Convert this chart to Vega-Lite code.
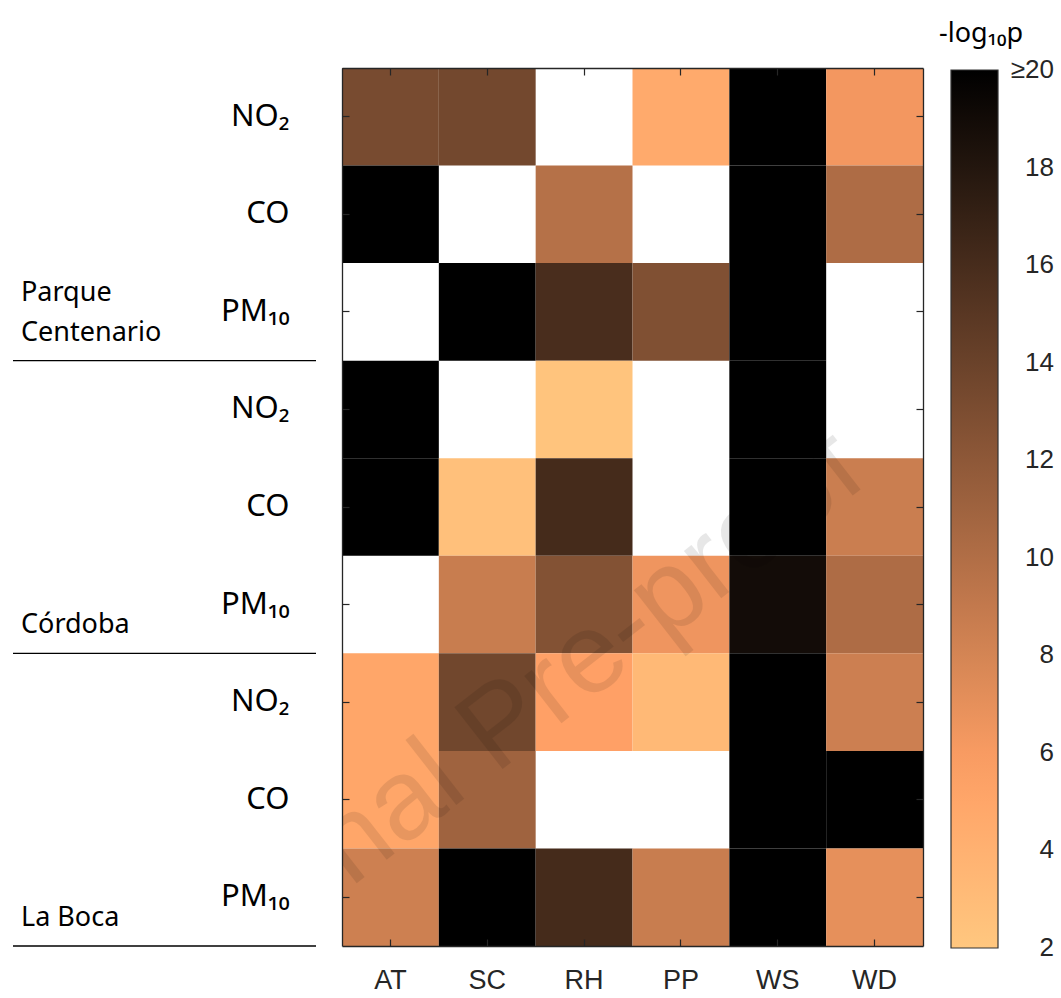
{
  "$schema": "https://vega.github.io/schema/vega-lite/v6.json",
  "background": "white",
  "padding": {"left": 12, "top": 21, "right": 0, "bottom": 0},
  "config": {"view": {"stroke": null}, "font": "Liberation Sans"},
  "datasets": {
    "cells": [
      {"row": "Parque Centenario|NO₂", "variable": "AT", "logp": 13.2},
      {"row": "Parque Centenario|NO₂", "variable": "SC", "logp": 13.5},
      {"row": "Parque Centenario|NO₂", "variable": "RH", "logp": null},
      {"row": "Parque Centenario|NO₂", "variable": "PP", "logp": 4.6},
      {"row": "Parque Centenario|NO₂", "variable": "WS", "logp": 20},
      {"row": "Parque Centenario|NO₂", "variable": "WD", "logp": 6.3},
      {"row": "Parque Centenario|CO", "variable": "AT", "logp": 20},
      {"row": "Parque Centenario|CO", "variable": "SC", "logp": null},
      {"row": "Parque Centenario|CO", "variable": "RH", "logp": 9.8},
      {"row": "Parque Centenario|CO", "variable": "PP", "logp": null},
      {"row": "Parque Centenario|CO", "variable": "WS", "logp": 20},
      {"row": "Parque Centenario|CO", "variable": "WD", "logp": 10.2},
      {"row": "Parque Centenario|PM₁₀", "variable": "AT", "logp": null},
      {"row": "Parque Centenario|PM₁₀", "variable": "SC", "logp": 20},
      {"row": "Parque Centenario|PM₁₀", "variable": "RH", "logp": 15.9},
      {"row": "Parque Centenario|PM₁₀", "variable": "PP", "logp": 12.8},
      {"row": "Parque Centenario|PM₁₀", "variable": "WS", "logp": 20},
      {"row": "Parque Centenario|PM₁₀", "variable": "WD", "logp": null},
      {"row": "Córdoba|NO₂", "variable": "AT", "logp": 20},
      {"row": "Córdoba|NO₂", "variable": "SC", "logp": null},
      {"row": "Córdoba|NO₂", "variable": "RH", "logp": 2.3},
      {"row": "Córdoba|NO₂", "variable": "PP", "logp": null},
      {"row": "Córdoba|NO₂", "variable": "WS", "logp": 20},
      {"row": "Córdoba|NO₂", "variable": "WD", "logp": null},
      {"row": "Córdoba|CO", "variable": "AT", "logp": 20},
      {"row": "Córdoba|CO", "variable": "SC", "logp": 2.6},
      {"row": "Córdoba|CO", "variable": "RH", "logp": 16.1},
      {"row": "Córdoba|CO", "variable": "PP", "logp": null},
      {"row": "Córdoba|CO", "variable": "WS", "logp": 20},
      {"row": "Córdoba|CO", "variable": "WD", "logp": 8.6},
      {"row": "Córdoba|PM₁₀", "variable": "AT", "logp": null},
      {"row": "Córdoba|PM₁₀", "variable": "SC", "logp": 8.7},
      {"row": "Córdoba|PM₁₀", "variable": "RH", "logp": 12.6},
      {"row": "Córdoba|PM₁₀", "variable": "PP", "logp": 6.5},
      {"row": "Córdoba|PM₁₀", "variable": "WS", "logp": 18.9},
      {"row": "Córdoba|PM₁₀", "variable": "WD", "logp": 10.2},
      {"row": "La Boca|NO₂", "variable": "AT", "logp": 5.0},
      {"row": "La Boca|NO₂", "variable": "SC", "logp": 13.6},
      {"row": "La Boca|NO₂", "variable": "RH", "logp": 5.5},
      {"row": "La Boca|NO₂", "variable": "PP", "logp": 3.3},
      {"row": "La Boca|NO₂", "variable": "WS", "logp": 20},
      {"row": "La Boca|NO₂", "variable": "WD", "logp": 8.5},
      {"row": "La Boca|CO", "variable": "AT", "logp": 5.0},
      {"row": "La Boca|CO", "variable": "SC", "logp": 11.0},
      {"row": "La Boca|CO", "variable": "RH", "logp": null},
      {"row": "La Boca|CO", "variable": "PP", "logp": null},
      {"row": "La Boca|CO", "variable": "WS", "logp": 20},
      {"row": "La Boca|CO", "variable": "WD", "logp": 20},
      {"row": "La Boca|PM₁₀", "variable": "AT", "logp": 8.4},
      {"row": "La Boca|PM₁₀", "variable": "SC", "logp": 20},
      {"row": "La Boca|PM₁₀", "variable": "RH", "logp": 16.1},
      {"row": "La Boca|PM₁₀", "variable": "PP", "logp": 8.7},
      {"row": "La Boca|PM₁₀", "variable": "WS", "logp": 20},
      {"row": "La Boca|PM₁₀", "variable": "WD", "logp": 7.0}
    ]
  },
  "bounds": "flush",
  "spacing": 26,
  "hconcat": [
    {
      "width": 303,
      "height": 878,
      "data": {"name": "cells"},
      "transform": [
        {"filter": "datum.variable == 'AT' && indexof(datum.row, 'PM₁₀') >= 0"},
        {"calculate": "split(datum.row, '|')[0]", "as": "site"},
        {"calculate": "datum.site == 'Parque Centenario' ? 'Centenario' : datum.site", "as": "lastLine"},
        {"calculate": "datum.site == 'Parque Centenario' ? 'Parque' : ''", "as": "firstLine"}
      ],
      "encoding": {
        "y": {"field": "row", "type": "nominal", "bandPosition": 1,
              "scale": {"type": "band", "paddingInner": 0, "paddingOuter": 0,
                        "domain": ["Parque Centenario|NO₂", "Parque Centenario|CO", "Parque Centenario|PM₁₀", "Córdoba|NO₂", "Córdoba|CO", "Córdoba|PM₁₀", "La Boca|NO₂", "La Boca|CO", "La Boca|PM₁₀"]},
              "axis": null},
        "x": {"datum": 0, "type": "quantitative", "scale": {"domain": [0, 1], "nice": false}, "axis": null}
      },
      "layer": [
        {
          "mark": {"type": "rule", "color": "#000000", "strokeWidth": 1.3},
          "encoding": {"x2": {"datum": 1}}
        },
        {
          "mark": {"type": "text", "align": "left", "baseline": "alphabetic", "dx": 8, "dy": -20,
                   "font": "Noto Sans", "fontSize": 27, "color": "#000000"},
          "encoding": {"text": {"field": "lastLine", "type": "nominal"}}
        },
        {
          "mark": {"type": "text", "align": "left", "baseline": "alphabetic", "dx": 8, "dy": -60,
                   "font": "Noto Sans", "fontSize": 27, "color": "#000000"},
          "encoding": {"text": {"field": "firstLine", "type": "nominal"}}
        }
      ]
    },
    {
      "width": 581,
      "height": 878,
      "layer": [
        {
          "data": {"name": "cells"},
          "transform": [{"filter": "isValid(datum.logp)"}],
          "mark": {"type": "rect"},
          "encoding": {
            "x": {"field": "variable", "type": "nominal",
                  "scale": {"domain": ["AT", "SC", "RH", "PP", "WS", "WD"], "paddingInner": 0, "paddingOuter": 0},
                  "axis": {"orient": "bottom", "title": null, "labelAngle": 0, "labelFont": "Liberation Sans", "labelFontSize": 27,
                           "labelColor": "#262626", "labelPadding": 28, "tickSize": -7, "tickColor": "#262626", "tickWidth": 1.2,
                           "domainColor": "#262626", "domainWidth": 1.3, "zindex": 1}},
            "y": {"field": "row", "type": "nominal",
                  "scale": {"paddingInner": 0, "paddingOuter": 0,
                            "domain": ["Parque Centenario|NO₂", "Parque Centenario|CO", "Parque Centenario|PM₁₀", "Córdoba|NO₂", "Córdoba|CO", "Córdoba|PM₁₀", "La Boca|NO₂", "La Boca|CO", "La Boca|PM₁₀"]},
                  "axis": {"orient": "left", "title": null, "labelExpr": "split(datum.label, '|')[1]", "labelFont": "Noto Sans",
                           "labelFontSize": 31, "labelColor": "#000000", "labelPadding": 60, "labelLimit": 0, "tickSize": -7,
                           "tickColor": "#262626", "tickWidth": 1.2, "domainColor": "#262626", "domainWidth": 1.3, "zindex": 1}},
            "color": {"field": "logp", "type": "quantitative",
                      "scale": {"domain": [2, 5.6, 20], "range": ["#ffc77f", "#ff9f65", "#000000"], "clamp": true, "interpolate": "rgb"},
                      "legend": {"type": "gradient", "orient": "none", "legendX": 926, "legendY": -47, "direction": "vertical",
                                 "gradientLength": 878, "gradientThickness": 47, "gradientStrokeColor": "#333333", "gradientStrokeWidth": 1.2,
                                 "values": [2, 4, 6, 8, 10, 12, 14, 16, 18, 20],
                                 "labelExpr": "datum.value >= 20 ? '≥20' : datum.label",
                                 "labelFont": "Liberation Sans", "labelFontSize": 26, "labelColor": "#262626",
                                 "labelOffset": 56, "labelAlign": "right", "labelOverlap": false,
                                 "title": "-log₁₀p", "titleFont": "Noto Sans", "titleFontSize": 27, "titleFontWeight": "normal",
                                 "titleColor": "#000000", "titlePadding": 22, "titleAnchor": "start",
                                 "encode": {"labels": {"update": {"baseline": {"value": "middle"}, "align": {"value": "right"}}},
                                            "title": {"update": {"dx": {"value": -12}}}}}}
          }
        },
        {
          "data": {"name": "cells"},
          "mark": {"type": "rect", "opacity": 0},
          "encoding": {
            "x": {"field": "variable", "type": "nominal",
                  "scale": {"domain": ["AT", "SC", "RH", "PP", "WS", "WD"], "paddingInner": 0, "paddingOuter": 0},
                  "axis": {"orient": "top", "title": null, "labels": false, "tickSize": -7, "tickColor": "#262626", "tickWidth": 1.2,
                           "domainColor": "#262626", "domainWidth": 1.3, "zindex": 1}},
            "y": {"field": "row", "type": "nominal",
                  "scale": {"paddingInner": 0, "paddingOuter": 0,
                            "domain": ["Parque Centenario|NO₂", "Parque Centenario|CO", "Parque Centenario|PM₁₀", "Córdoba|NO₂", "Córdoba|CO", "Córdoba|PM₁₀", "La Boca|NO₂", "La Boca|CO", "La Boca|PM₁₀"]},
                  "axis": {"orient": "right", "title": null, "labels": false, "tickSize": -7, "tickColor": "#262626", "tickWidth": 1.2,
                           "domainColor": "#262626", "domainWidth": 1.3, "zindex": 1}}
          }
        },
        {
          "data": {"values": [{"stamp": "Journal Pre-proof", "variable": "SC", "row": "La Boca|NO₂"}]},
          "mark": {"type": "text", "angle": -38, "align": "center", "baseline": "middle",
                   "font": "Liberation Sans", "fontSize": 114, "color": "#000000", "opacity": 0.09, "clip": true},
          "encoding": {
            "x": {"field": "variable", "type": "nominal", "bandPosition": 0.65, "axis": null},
            "y": {"field": "row", "type": "nominal", "bandPosition": 0.75, "axis": null},
            "text": {"field": "stamp", "type": "nominal"}
          }
        }
      ],
      "resolve": {"axis": {"x": "independent", "y": "independent"}}
    }
  ]
}
